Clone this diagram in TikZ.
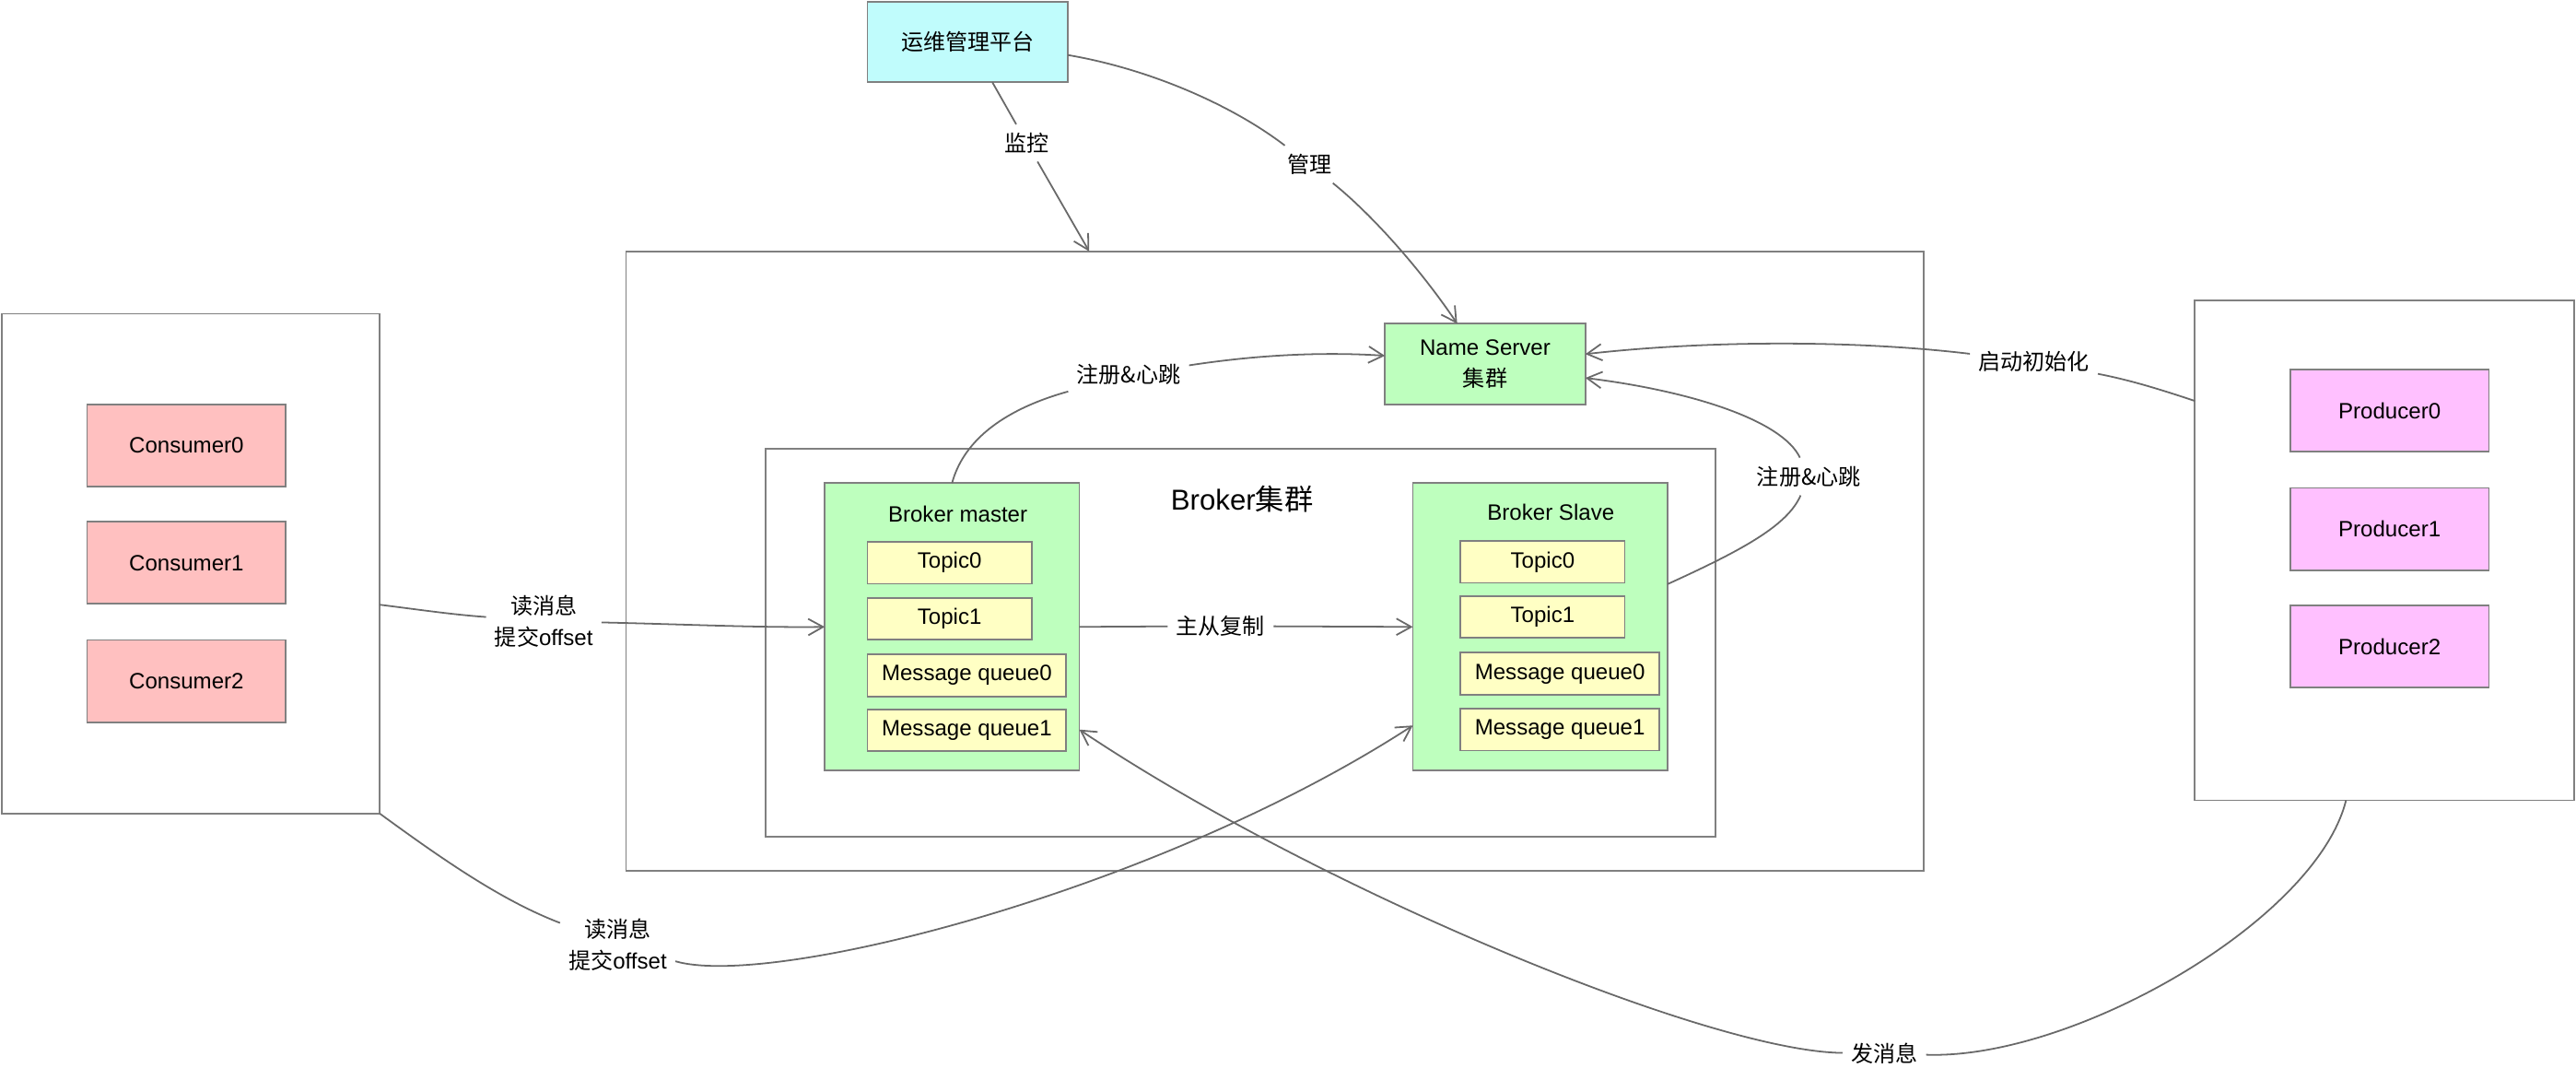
\documentclass[tikz,border=0pt]{standalone}
\usepackage{fontspec}
\setmainfont{Liberation Sans}
\newfontfamily\cjk{Noto Sans CJK SC}
\usetikzlibrary{arrows.meta,calc}
\definecolor{bordergray}{RGB}{128,128,128}
\definecolor{linegray}{RGB}{105,105,105}
\definecolor{opsfill}{RGB}{192,252,252}
\definecolor{greenfill}{RGB}{190,255,190}
\definecolor{yellowfill}{RGB}{255,255,196}
\definecolor{pinkfill}{RGB}{255,192,192}
\definecolor{magfill}{RGB}{255,192,255}
\newcommand\mainfs{\fontsize{13.5}{19}\selectfont}
\newcommand\bigfs{\fontsize{17.5}{21}\selectfont}
\tikzset{
  box/.style={draw=bordergray, line width=1pt, rectangle, inner sep=0pt, outer sep=0pt, font=\mainfs, align=center},
  container/.style={box, fill=white},
  opsbox/.style={box, fill=opsfill, minimum width=122pt, minimum height=49pt},
  greenbox/.style={box, fill=greenfill},
  topicbox/.style={box, fill=yellowfill, minimum width=100pt, minimum height=25.5pt},
  mqbox/.style={box, fill=yellowfill, minimum width=121pt, minimum height=25.5pt},
  consbox/.style={box, fill=pinkfill, minimum width=121pt, minimum height=50pt},
  prodbox/.style={box, fill=magfill, minimum width=121pt, minimum height=50pt},
  lbl/.style={inner sep=5pt, font=\mainfs, align=center},
  titletext/.style={inner sep=0pt, font=\mainfs},
  conn/.style={draw=linegray, line width=1pt},
  arr/.style={conn, -{Straight Barb[length=9pt,width=10pt]}}
}
\begin{document}
\begin{tikzpicture}[x=1pt,y=-1pt]
\useasboundingbox (0,0) rectangle (1568,657.2);

% containers
\node[container, minimum width=790pt, minimum height=377pt] (outer) at (776,341.5) {};
\node[container, minimum width=578pt, minimum height=236pt] (inner) at (755,391) {};
\node[container, minimum width=230pt, minimum height=304pt] (cons) at (116,343) {};
\node[container, minimum width=231pt, minimum height=304pt] (prod) at (1451.5,335) {};

% top box
\node[opsbox] (ops) at (589,25.5) {{\cjk 运维管理平台}};

% name server
\node[greenbox, minimum width=122pt, minimum height=49pt] (ns) at (904,221.5) {Name Server\\{\cjk 集群}};

% broker cluster title
\node[inner sep=0pt, font=\bigfs] (bctitle) at (756,304) {Broker{\cjk 集群}};

% broker master
\node[greenbox, minimum width=155pt, minimum height=175pt] (master) at (579.5,381.5) {};
\node[titletext] (mtitle) at (583,313) {Broker master};
\node[topicbox] (mt0) at (578,342.5) {Topic0};
\node[topicbox] (mt1) at (578,376.5) {Topic1};
\node[mqbox] (mq0) at (588.5,411) {Message queue0};
\node[mqbox] (mq1) at (588.5,444.5) {Message queue1};

% broker slave
\node[greenbox, minimum width=155pt, minimum height=175pt] (slave) at (937.5,381.5) {};
\node[titletext] (stitle) at (944,312) {Broker Slave};
\node[topicbox] (st0) at (939,342) {Topic0};
\node[topicbox] (st1) at (939,375.5) {Topic1};
\node[mqbox] (sq0) at (949.5,410) {Message queue0};
\node[mqbox] (sq1) at (949.5,444) {Message queue1};

% consumers
\node[consbox] (c0) at (113.5,271) {Consumer0};
\node[consbox] (c1) at (113.5,342.5) {Consumer1};
\node[consbox] (c2) at (113.5,414.5) {Consumer2};

% producers
\node[prodbox] (p0) at (1454.5,250) {Producer0};
\node[prodbox] (p1) at (1454.5,322) {Producer1};
\node[prodbox] (p2) at (1454.5,393.5) {Producer2};

% labels
\node[lbl] (mon) at (625,87) {{\cjk 监控}};
\node[lbl] (mgmt) at (797,100) {{\cjk 管理}};
\node[lbl] (reg1) at (687,228) {{\cjk 注册\&心跳}};
\node[lbl] (reg2) at (1101,290) {{\cjk 注册\&心跳}};
\node[lbl] (init) at (1238,220) {{\cjk 启动初始化}};
\node[lbl] (repl) at (743,381) {{\cjk 主从复制}};
\node[lbl] (rd1) at (331,378) {{\cjk 读消息}\\{\cjk 提交}offset};
\node[lbl] (rd2) at (376,575) {{\cjk 读消息}\\{\cjk 提交}offset};
\node[lbl] (snd) at (1147,641) {{\cjk 发消息}};

% connectors
\draw[conn] ($(ops.south)+(15,0)$) -- (mon);
\draw[arr] (mon) -- ($(outer.north)+(-113,0)$);

\draw[conn] ($(ops.east)+(0,8)$) .. controls (700,42) and (750,64) .. (mgmt);
\draw[arr] (mgmt) .. controls (832,128) and (862,160) .. ($(ns.north)+(-17,0)$);

\draw[conn] (master.north) .. controls (586,270) and (608,250) .. (reg1);
\draw[arr] (reg1) .. controls (765,216) and (805,214) .. ($(ns.west)+(0,-5)$);

\draw[conn] ($(slave.east)+(0,-26)$) .. controls (1060,335) and (1088,320) .. (reg2);
\draw[arr] (reg2) .. controls (1085,256) and (1030,238) .. ($(ns.east)+(0,8.5)$);

\draw[conn] ($(prod.west)+(0,-91)$) .. controls (1312,236) and (1295,231) .. (init);
\draw[arr] (init) .. controls (1130,207) and (1040,207) .. ($(ns.east)+(0,-6)$);

\draw[conn] (master.east) -- (repl);
\draw[arr] (repl) -- (slave.west);

\draw[conn] ($(cons.east)+(0,25)$) .. controls (255,371) and (275,374) .. (rd1);
\draw[arr] (rd1) .. controls (420,380) and (460,382) .. (master.west);

\draw[conn] (cons.south east) .. controls (268,522) and (305,548) .. (rd2);
\draw[arr] ($(rd2.east)+(0,10)$) .. controls (470,602) and (705,542) .. ($(slave.west)+(0,60)$);

\draw[conn] ($(prod.south)+(-23.5,0)$) .. controls (1410,560) and (1262,645) .. (snd);
\draw[arr] (snd) .. controls (1040,640) and (800,540) .. ($(master.east)+(0,62.5)$);
\end{tikzpicture}
\end{document}
